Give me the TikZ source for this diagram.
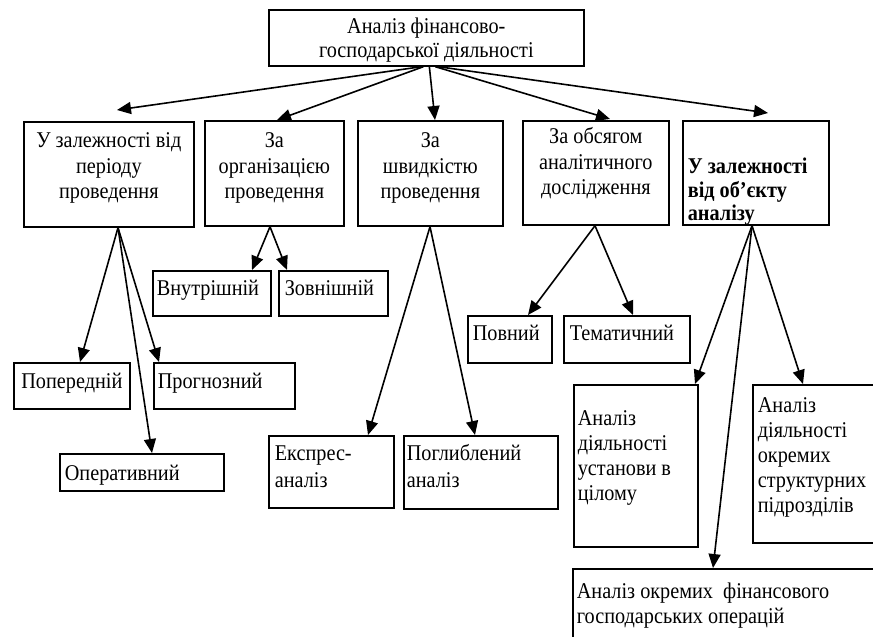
\documentclass[tikz,border=0pt]{standalone}
\usepackage{fontspec}
\setmainfont{Liberation Serif}[FakeStretch=0.9]
\usetikzlibrary{arrows.meta,calc}
\newcommand\BX[8]{\node[box, inner xsep=#7pt] (#1) at (#2,#3) {\parbox[c][#5pt][t]{\dimexpr#4pt-#7pt-#7pt\relax}{\vspace*{#6pt}#8}};}
\tikzset{
  box/.style={draw, line width=1.7pt, inner ysep=0pt, anchor=north west, font=\fontsize{22.5}{25.5}\selectfont},
  arr/.style={line width=1.6pt, -{Triangle[length=14pt,width=12pt]}}
}
\begin{document}
\begin{tikzpicture}[x=1pt,y=-1pt]
\useasboundingbox (0,0) rectangle (873,637);
\fill[white] (0,0) rectangle (873,637);
\clip (0,0) rectangle (873,637);
% top
\BX{top}{268}{9}{315}{56}{7.2}{2}{\fontsize{22.5}{24}\selectfont\centering\strut Аналіз фінансово-\\господарської діяльності}
% level 1
\BX{b1}{23}{121}{170}{105}{8.2}{1}{\centering\strut У~залежності~від\\періоду\\проведення}
\BX{b2}{204}{120}{139}{105}{9.2}{1}{\centering\strut За\\організацією\\проведення}
\BX{b3}{357}{120}{145}{105}{9.2}{1}{\centering\strut За\\швидкістю\\проведення}
\BX{b4}{522}{120}{146}{104}{5.2}{1}{\centering\strut За~обсягом\\аналітичного\\дослідження}
\BX{b5}{682}{120}{146}{104}{37.3}{5}{\raggedright\bfseries\fontsize{22.5}{22.5}\selectfont\strut У~залежності\\від~об’єкту\\аналізу}
% level 2
\BX{p1}{13}{362}{116}{46}{8.2}{2}{\centering\strut Попередній}
\BX{p2}{153}{362}{141}{46}{8.2}{4}{\raggedright\strut Прогнозний}
\BX{p3}{59}{453}{164}{37}{9.2}{5}{\raggedright\strut Оперативний}
\BX{o1}{152}{270}{118}{45}{7.2}{4}{\raggedright\strut Внутрішній}
\BX{o2}{278}{270}{109}{45}{7.2}{6}{\raggedright\strut Зовнішній}
\BX{s1}{268}{435}{125}{72}{6.1}{6}{\raggedright\fontsize{22.5}{27}\selectfont\strut Експрес-\\аналіз}
\BX{s2}{403}{435}{154}{73}{6.1}{3}{\raggedright\fontsize{22.5}{27}\selectfont\strut Поглиблений\\аналіз}
\BX{v1}{467}{315}{84}{47}{7.2}{5}{\raggedright\strut Повний}
\BX{v2}{563}{315}{126}{47}{7.2}{6}{\raggedright\strut Тематичний}
\BX{a1}{573}{384}{124}{162}{23.5}{4}{\raggedright\fontsize{22.5}{25}\selectfont\strut Аналіз\\діяльності\\установи в\\цілому}
\BX{a2}{752}{384}{130}{158}{10.5}{5}{\raggedright\fontsize{22.5}{25}\selectfont\strut Аналіз\\діяльності\\окремих\\структурних\\підрозділів}
\BX{a3}{572}{568}{310}{80}{12.5}{4}{\raggedright\fontsize{22.5}{25}\selectfont\strut Аналіз окремих~ фінансового\\господарських операцій}
% arrows from top
\draw[arr] ($(top.south)+(-5,0)$) -- ($(b1.north west)+(94,-11)$);
\draw[arr] ($(top.south)+(-3,0)$) -- ($(b2.north west)+(73,0)$);
\draw[arr] ($(top.south)+(3,0)$) -- ($(b3.north west)+(78,0)$);
\draw[arr] ($(top.south)+(9,0)$) -- ($(b4.north west)+(88,-1)$);
\draw[arr] ($(top.south)+(12,0)$) -- ($(b5.north west)+(86,-7)$);
% b1
\draw[arr] ($(b1.south west)+(95,0)$) -- ($(p1.north west)+(67,0)$);
\draw[arr] ($(b1.south west)+(95,0)$) -- ($(p2.north west)+(6,0)$);
\draw[arr] ($(b1.south west)+(95,0)$) -- ($(p3.north west)+(93,0)$);
% b2
\draw[arr] ($(b2.south west)+(66,0)$) -- ($(o1.north west)+(100,0)$);
\draw[arr] ($(b2.south west)+(66,0)$) -- ($(o2.north west)+(9,0)$);
% b3
\draw[arr] ($(b3.south west)+(73,0)$) -- ($(s1.north west)+(100,0)$);
\draw[arr] ($(b3.south west)+(73,0)$) -- ($(s2.north west)+(72,0)$);
% b4
\draw[arr] ($(b4.south west)+(73,0)$) -- ($(v1.north west)+(61,0)$);
\draw[arr] ($(b4.south west)+(73,0)$) -- ($(v2.north west)+(70,0)$);
% b5
\draw[arr] ($(b5.south west)+(70,0)$) -- ($(a1.north west)+(122,0)$);
\draw[arr] ($(b5.south west)+(70,0)$) -- ($(a2.north west)+(51,0)$);
\draw[arr] ($(b5.south west)+(70,0)$) -- ($(a3.north west)+(141,0)$);
\end{tikzpicture}
\end{document}
